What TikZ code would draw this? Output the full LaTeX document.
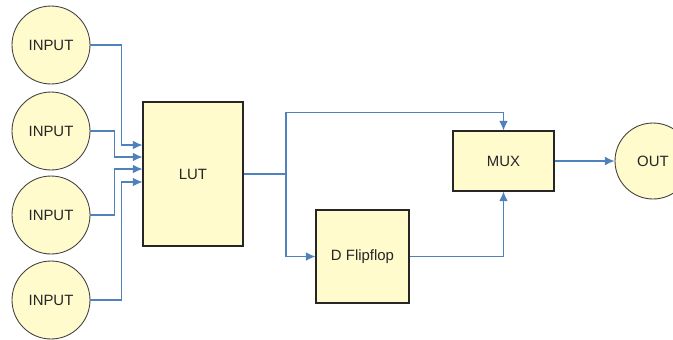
\documentclass[tikz,border=0pt]{standalone}
\usepackage{fontspec}
\setmainfont{Liberation Sans}
\usetikzlibrary{arrows.meta}
\definecolor{wireblue}{RGB}{79,129,189}
\definecolor{boxfill}{RGB}{255,251,204}
\begin{document}
\begin{tikzpicture}[x=0.02cm, y=-0.02cm,
    pin/.style={circle, draw=black!75, fill=boxfill, line width=0.5pt, minimum size=1.56cm, inner sep=0pt},
    block/.style={rectangle, draw=black!85, fill=boxfill, line width=0.6pt, inner sep=0pt},
    wire/.style={draw=wireblue, line width=0.7pt},
    arrowed/.style={wire, -{Latex[length=5.5pt,width=5pt]}},
    every node/.style={font=\fontsize{8.5}{10}\selectfont, text=black!85}
]
    \useasboundingbox (0,0) rectangle (673,339);

    % inputs
    \node[pin] (in1) at (51,45)  {INPUT};
    \node[pin] (in2) at (51,131) {INPUT};
    \node[pin] (in3) at (51,215) {INPUT};
    \node[pin] (in4) at (51,300) {INPUT};

    % blocks
    \node[block, minimum width=2cm, minimum height=2.88cm] (lut) at (193,174) {LUT};
    \node[block, minimum width=1.86cm, minimum height=1.86cm] (dff) at (362.5,256.5) {D Flipflop};
    \node[block, minimum width=2.02cm, minimum height=1.2cm] (mux) at (503.5,161) {MUX};
    \node[pin, minimum size=1.52cm] (out) at (653,161) {OUT};

    % inputs into the LUT
    \draw[arrowed] (in1.east) -- ++(31,0) |- ([yshift=0.58cm]lut.west);
    \draw[arrowed] (in2.east) -- ++(24,0) |- ([yshift=0.34cm]lut.west);
    \draw[arrowed] (in3.east) -- ++(24,0) |- ([yshift=0.10cm]lut.west);
    \draw[arrowed] (in4.east) -- ++(31,0) |- ([yshift=-0.16cm]lut.west);

    % LUT output, direct and through the flipflop
    \coordinate (split) at (286,174);
    \draw[wire] (lut.east) -- (split);
    \draw[arrowed] (split) |- ([yshift=0.36cm]mux.north) -- (mux.north);
    \draw[arrowed] (split) |- (dff.west);
    \draw[arrowed] (dff.east) -| (mux.south);
    \draw[arrowed] (mux.east) -- (out.west);
\end{tikzpicture}
\end{document}
